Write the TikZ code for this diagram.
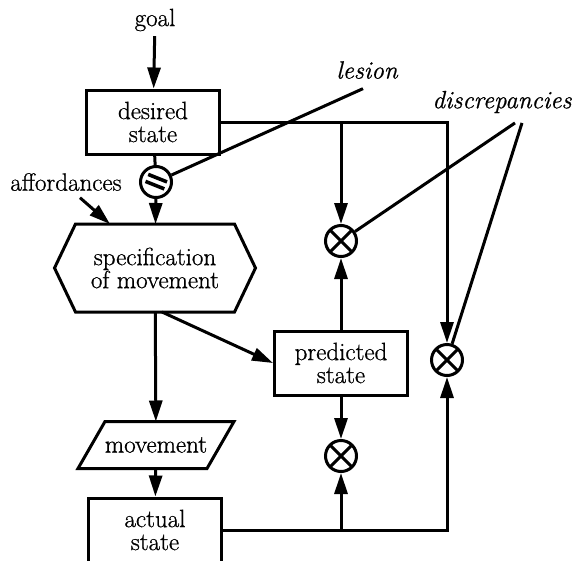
\documentclass[tikz,border=0pt]{standalone}
\usepackage{fontspec}
\newfontfamily\diagfont{Latin Modern Roman}[FakeBold=0.8]
\usetikzlibrary{arrows.meta,positioning}

\tikzset{
  statebox/.style={draw, minimum width=133pt, minimum height=64pt, inner sep=0pt},
  comparator/.style={draw, circle, minimum size=31pt, inner sep=0pt,
    path picture={
      \draw (path picture bounding box.north west) -- (path picture bounding box.south east)
            (path picture bounding box.north east) -- (path picture bounding box.south west);}},
  cutcircle/.style={draw, circle, minimum size=31pt, inner sep=0pt,
    path picture={
      \draw[line width=3.6pt] ([shift={(-7.8pt,7.6pt)}]path picture bounding box.center) -- ++(18.8pt,-7.5pt)
            ([shift={(-10.5pt,0.6pt)}]path picture bounding box.center) -- ++(18.8pt,-7.5pt);}},
  note/.style={font=\diagfont\fontsize{25}{23}\selectfont\itshape}
}

\begin{document}
\begin{tikzpicture}[x=1pt, y=-1pt, line width=3pt,
    >={Triangle[length=21pt,width=13pt]},
    every node/.style={font=\diagfont\fontsize{25}{23}\selectfont, align=center}]
  \useasboundingbox (0,0) rectangle (575,560);

  % main column
  \node (goal) at (155,20) {goal};
  \node[statebox] (desired) at (153,122) {desired\\state};
  \node[cutcircle] (lesion) at (156,182) {};
  \node[minimum width=198pt, minimum height=85pt, inner sep=0pt] (spec) at (155,268) {specification\\of movement};
  \draw (spec.west) -- ([xshift=21pt]spec.north west) -- ([xshift=-21pt]spec.north east)
    -- (spec.east) -- ([xshift=-21pt]spec.south east) -- ([xshift=21pt]spec.south west) -- cycle;
  \node[minimum width=153pt, minimum height=44pt, inner sep=0pt] (mov) at (156,445) {movement};
  \draw (mov.south west) -- ([xshift=27pt]mov.north west) -- (mov.north east)
    -- ([xshift=-27pt]mov.south east) -- cycle;
  \node[statebox] (actual) at (155,530) {actual\\state};
  \node (afford) at (66,182) {affordances};

  % prediction and comparators
  \node[statebox] (pred) at (341,363) {predicted\\state};
  \node[comparator] (cU) at (341,241) {};
  \node[comparator] (cL) at (341,456) {};
  \node[comparator] (cR) at (447,360) {};

  % labels
  \node[note] (lesionlbl) at (367,70) {lesion};
  \node[note] (discr) at (502,102) {discrepancies};

  % connectors
  \draw[->] (goal) -- (desired);
  \draw (desired) -- (lesion);
  \draw[->] (lesion) -- (spec);
  \draw[->] ([xshift=14pt,yshift=-2pt]afford.south) -- ([xshift=-45pt]spec.north);
  \draw[->] (spec) -- (mov);
  \draw[->] (mov) -- (actual);
  \draw[->] ([xshift=7pt]spec.south) -- (pred.west);

  \draw[->] (desired.east) -| (cR);
  \draw[->] (desired.east -| cU) -- (cU);
  \draw[->] (pred) -- (cU);
  \draw[->] (pred) -- (cL);
  \draw[->] (actual.east) -| (cR);
  \draw[->] (actual.east -| cL) -- (cL);

  \draw (lesion) -- ([xshift=-4pt,yshift=-5pt]lesionlbl.south);
  \draw (cU) -- ([xshift=13pt,yshift=-5pt]discr.south);
  \draw (cR) -- ([xshift=20pt,yshift=-5pt]discr.south);
\end{tikzpicture}
\end{document}
